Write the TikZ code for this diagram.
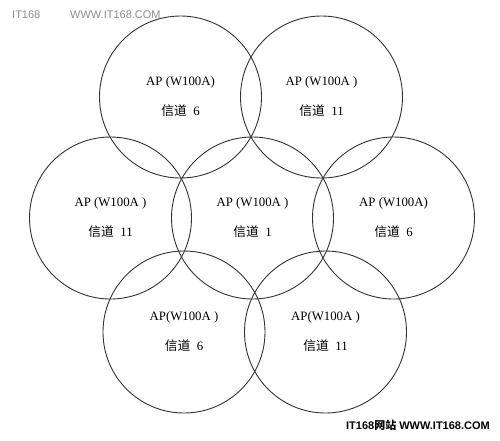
\documentclass[tikz,border=0pt]{standalone}
\usepackage{fontspec}
\setmainfont{Liberation Serif}
\newfontfamily\cjk{Noto Sans CJK SC}
\newfontfamily\wmfont{Liberation Sans}
\begin{document}
\begin{tikzpicture}[x=1pt,y=-1pt,
  ap/.style={circle, draw=black!80, line width=0.9pt, minimum size=162pt, inner sep=0pt,
    align=center, font=\fontsize{12.8}{30}\selectfont},
  wmlight/.style={text=black!45, font=\wmfont\fontsize{11}{11}\selectfont, anchor=west, inner sep=0pt},
  wmdark/.style={text=black, font=\wmfont\bfseries\fontsize{11}{11}\selectfont, anchor=east, inner sep=0pt}]
\useasboundingbox (0,0) rectangle (500,440);
\node[ap] (tl) at (180.5,97) {AP (W100A)\\{\cjk 信道}\ \ 6};
\node[ap] (tr) at (321.5,97) {AP (W100A )\\{\cjk 信道}\ \ 11};
\node[ap] (ml) at (110.5,218) {AP (W100A )\\{\cjk 信道}\ \ 11};
\node[ap] (mc) at (252.5,218) {AP (W100A )\\{\cjk 信道}\ \ 1};
\node[ap] (mr) at (393.5,218) {AP (W100A)\\{\cjk 信道}\ \ 6};
\node[ap] (bl) at (184,332) {AP(W100A )\\{\cjk 信道}\ \ 6};
\node[ap] (br) at (325.5,332) {AP(W100A )\\{\cjk 信道}\ \ 11};
\node[wmlight] (wm1) at (12,15) {IT168};
\node[wmlight] (wm2) at (70,15) {WWW.IT168.COM};
\node[wmdark] (wm3) at (490,425) {IT168{\cjk\bfseries 网站} WWW.IT168.COM};
\end{tikzpicture}
\end{document}
